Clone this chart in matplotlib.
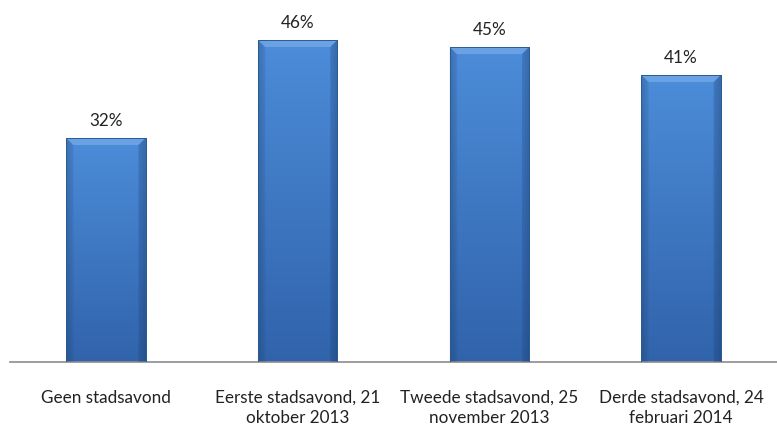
import numpy as np
import matplotlib
matplotlib.use('Agg')
from matplotlib import pyplot as plt
from matplotlib.patches import Polygon

categories = ['Geen stadsavond', 'Eerste stadsavond, 21\noktober 2013',
              'Tweede stadsavond, 25\nnovember 2013', 'Derde stadsavond, 24\nfebruari 2014']
values = [32, 46, 45, 41]
value_labels = ['32%', '46%', '45%', '41%']

plt.rcParams['font.family'] = ['Lato', 'DejaVu Sans']

fig = plt.figure(figsize=(7.77, 4.25), dpi=100)
ax = fig.add_axes([10 / 777, 63 / 425, 767 / 777, 350 / 425])
ax.set_xlim(-0.5, 3.5)
ax.set_ylim(0, 50)

width = 0.415
bars = ax.bar(range(len(values)), values, width=width, color='#3a76c4',
              edgecolor='#2c5a96', linewidth=0.6, zorder=2)

#  gradient fill, darker towards bottom and sides
top = np.array([0.30, 0.55, 0.85])
bot = np.array([0.19, 0.39, 0.67])
ny, nx = 100, 60
t = np.linspace(0, 1, ny)[:, None, None]
sx = np.linspace(-1, 1, nx)
side = 1 - 0.15 * np.clip((np.abs(sx) - 0.8) / 0.2, 0, 1)
grad = (top * (1 - t) + bot * t) * side[None, :, None]
for b in bars:
    x0 = b.get_x()
    h = b.get_height()
    im = ax.imshow(grad, extent=[x0, x0 + width, 0, h], aspect='auto', zorder=2.5,
                   interpolation='bilinear')
    im.set_clip_path(b)
    #  bevel at the top
    bev = 1.0
    dx = width * 0.09
    poly = Polygon([[x0, h], [x0 + width, h], [x0 + width - dx, h - bev], [x0 + dx, h - bev]],
                   closed=True, facecolor='#74a8e8', edgecolor='none', alpha=0.8, zorder=3)
    ax.add_patch(poly)
    ax.add_patch(Polygon([[x0, h], [x0 + dx, h - bev], [x0 + dx, 0], [x0, 0]], closed=True,
                         facecolor='#2b5a9a', edgecolor='none', alpha=0.15, zorder=3))
    ax.add_patch(Polygon([[x0 + width, h], [x0 + width - dx, h - bev], [x0 + width - dx, 0],
                          [x0 + width, 0]], closed=True,
                         facecolor='#1f4a85', edgecolor='none', alpha=0.25, zorder=3))
    ax.add_patch(Polygon([[x0, h], [x0 + width, h], [x0 + width, 0], [x0, 0]], closed=True,
                         facecolor='none', edgecolor='#2c5a96', linewidth=0.7, zorder=3.5))

for i, v in enumerate(values):
    ax.text(i, v + 2.5, value_labels[i], ha='center', va='center', fontsize=12.3, color='#222222')

for s in ['top', 'right', 'left']:
    ax.spines[s].set_visible(False)
ax.spines['bottom'].set_color('#8c8c8c')
ax.spines['bottom'].set_linewidth(1.2)
ax.set_yticks([])
ax.set_xticks(range(len(categories)))
ax.set_xticklabels(categories, fontsize=12.3, color='#222222', linespacing=1.3)
ax.tick_params(axis='x', length=0, pad=20)

fig.savefig('out.png', dpi=100)
